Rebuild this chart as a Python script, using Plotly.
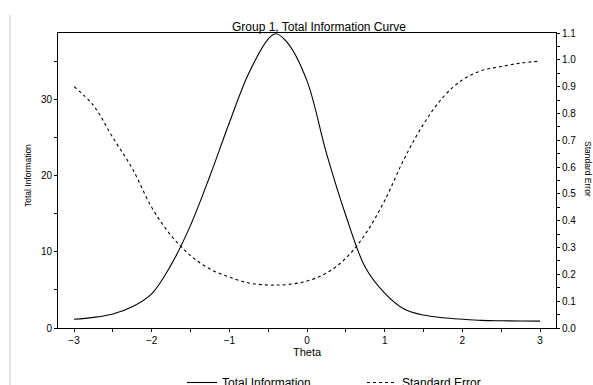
import plotly.graph_objects as go

theta = [-3.0, -2.75, -2.5, -2.25, -2.0, -1.75, -1.5, -1.25, -1.0, -0.75, -0.5, -0.4, -0.25,
         0.0, 0.25, 0.5, 0.75, 1.0, 1.25, 1.5, 1.75, 2.0, 2.25, 2.5, 2.75, 3.0]
total_info = [1.15, 1.4, 1.85, 2.8, 4.5, 8.3, 13.5, 20.0, 27.0, 33.5, 38.0, 38.7, 37.5,
              32.5, 23.0, 14.8, 8.0, 4.6, 2.5, 1.7, 1.35, 1.15, 1.0, 0.95, 0.92, 0.9]
std_err = [0.90, 0.83, 0.71, 0.595, 0.45, 0.345, 0.27, 0.22, 0.19, 0.168, 0.16, 0.16, 0.162,
           0.175, 0.205, 0.26, 0.35, 0.475, 0.63, 0.76, 0.86, 0.925, 0.96, 0.975, 0.988, 0.995]

FONT = "Liberation Sans, Arial, sans-serif"

fig = go.Figure()
fig.add_trace(go.Scatter(x=theta, y=total_info, mode="lines", name="Total Information",
                         line=dict(color="black", width=1.1, shape="spline"), yaxis="y"))
fig.add_trace(go.Scatter(x=theta, y=std_err, mode="lines", name="Standard Error",
                         line=dict(color="black", width=1.1, dash="dot", shape="spline"), yaxis="y2"))

axis_common = dict(showgrid=False, zeroline=False, showline=True, linecolor="black", linewidth=1,
                   ticks="outside", ticklen=3, tickcolor="black", tickwidth=1,
                   tickfont=dict(family=FONT, size=10, color="black"))

fig.update_layout(
    width=593, height=385,
    margin=dict(l=58, r=37, t=33, b=57, autoexpand=False),
    paper_bgcolor="white", plot_bgcolor="white",
    showlegend=True,
    legend=dict(orientation="h", xref="container", yref="container",
                x=182 / 593, xanchor="left", y=1 - 368 / 385, yanchor="top",
                font=dict(family=FONT, size=12, color="black"),
                entrywidth=135, entrywidthmode="pixels", bgcolor="rgba(0,0,0,0)"),
    xaxis=dict(range=[-3.206, 3.206], tickmode="array", tickvals=[-3, -2, -1, 0, 1, 2, 3],
               minor=dict(tickvals=[-2.5, -1.5, -0.5, 0.5, 1.5, 2.5], ticks="outside", ticklen=3,
                          tickcolor="black"),
               mirror=True, **axis_common),
    yaxis=dict(range=[0, 38.8], tickmode="array", tickvals=[0, 10, 20, 30],
               minor=dict(tickvals=[5, 15, 25, 35], ticks="outside", ticklen=3, tickcolor="black"),
               **axis_common),
    yaxis2=dict(range=[0, 1.1], overlaying="y", side="right", tickmode="linear", tick0=0, dtick=0.1,
                tickformat=".1f",
                minor=dict(dtick=0.05, tick0=0, ticks="outside", ticklen=3, tickcolor="black"),
                **axis_common),
    annotations=[
        dict(text="Group 1, Total Information Curve", xref="paper", yref="paper",
             x=(319 - 58) / 498, y=(328 - 27) / 295, showarrow=False,
             font=dict(family=FONT, size=12, color="black"), xanchor="center", yanchor="middle"),
        dict(text="Total Information", xref="paper", yref="paper",
             x=(28 - 58) / 498, y=(328 - 176) / 295, showarrow=False, textangle=-90,
             font=dict(family=FONT, size=8.5, color="black"), xanchor="center", yanchor="middle"),
        dict(text="Standard Error", xref="paper", yref="paper",
             x=(588 - 58) / 498, y=(328 - 169) / 295, showarrow=False, textangle=90,
             font=dict(family=FONT, size=8.5, color="black"), xanchor="center", yanchor="middle"),
        dict(text="Theta", xref="paper", yref="paper",
             x=(307 - 58) / 498, y=(328 - 352) / 295, showarrow=False,
             font=dict(family=FONT, size=11, color="black"), xanchor="center", yanchor="middle"),
    ],
    shapes=[
        dict(type="line", xref="paper", yref="paper", x0=(10 - 58) / 498, x1=(10 - 58) / 498,
             y0=(328 - 385) / 295, y1=(328 - 15) / 295, line=dict(color="#c8c8c8", width=1)),
    ],
)

fig.write_html("out.html")
